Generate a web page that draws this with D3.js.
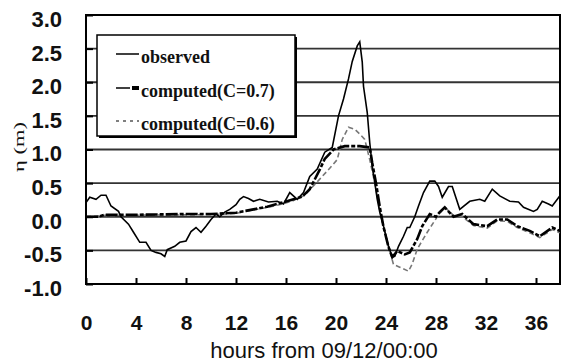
<!DOCTYPE html>
<html lang="en">
  <head>
    <meta charset="UTF-8" />
    <title>Storm surge - observed vs computed</title>
    <style>
      body {
        margin: 0;
        background: #fff;
      }
      svg {
        display: block;
      }
    </style>
  </head>
  <body>
    <svg></svg>
    <script src="https://d3js.org/d3.v7.min.js"></script>
    <script>
      // hours from 09/12/00:00 and water level (m)
      const obsHours = [0, 0.3, 0.8, 1.2, 1.6, 2.0, 2.6, 2.8, 3.4, 3.8, 4.3, 4.8, 5.2, 5.6, 6.0, 6.3, 6.5, 7.1, 7.5, 8.0, 8.4, 8.8, 9.2, 9.6, 10.0, 10.4, 10.7, 11.1, 11.5, 12.0, 12.3, 12.6, 13.0, 13.4, 13.9, 14.6, 15.3, 15.8, 16.3, 16.9, 17.4, 17.9, 18.5, 19.1, 19.7, 20.2, 20.6, 21.0, 21.3, 21.7, 21.9, 22.1, 22.2, 22.5, 22.7, 22.9, 23.1, 23.3, 23.5, 23.8, 24.2, 24.5, 24.7, 25.0, 25.4, 25.7, 25.9, 26.3, 26.6, 27.0, 27.5, 27.9, 28.2, 28.5, 29.0, 29.3, 29.9, 30.7, 31.5, 31.9, 32.5, 33.1, 33.9, 34.6, 35.0, 35.8, 36.1, 36.5, 37.0, 37.3, 37.9];
      const obsValues = [0.21, 0.29, 0.26, 0.32, 0.32, 0.16, 0.08, 0.0, -0.11, -0.23, -0.38, -0.38, -0.5, -0.53, -0.55, -0.59, -0.49, -0.44, -0.38, -0.36, -0.22, -0.16, -0.23, -0.14, -0.04, 0.04, 0.0, 0.07, 0.11, 0.18, 0.26, 0.3, 0.27, 0.23, 0.26, 0.22, 0.23, 0.19, 0.36, 0.26, 0.36, 0.6, 0.71, 0.96, 1.03, 1.5, 1.75, 2.05, 2.31, 2.54, 2.6, 2.3, 1.94, 1.55, 1.1, 0.75, 0.51, 0.26, 0.07, -0.14, -0.44, -0.6, -0.59, -0.44, -0.29, -0.16, -0.16, 0.0, 0.16, 0.36, 0.53, 0.53, 0.45, 0.29, 0.45, 0.45, 0.11, 0.23, 0.26, 0.23, 0.41, 0.31, 0.23, 0.22, 0.14, 0.08, 0.11, 0.23, 0.19, 0.16, 0.31];

      const c07Hours = [0, 1.0, 1.5, 4, 8, 10, 11, 12, 13.4, 14.5, 15.3, 16.6, 17.3, 17.9, 18.7, 19.1, 19.8, 20.7, 21.9, 22.7, 22.9, 23.2, 23.5, 23.8, 24.2, 24.5, 24.9, 25.5, 25.9, 26.5, 26.9, 27.5, 28.0, 28.3, 28.7, 29.4, 30.1, 31.0, 32.1, 32.9, 33.7, 34.5, 35.5, 36.3, 37.3, 37.9];
      const c07Values = [0, 0, 0.03, 0.03, 0.04, 0.04, 0.05, 0.06, 0.11, 0.15, 0.19, 0.26, 0.3, 0.41, 0.7, 0.86, 1.0, 1.05, 1.05, 1.03, 0.8, 0.5, 0.15, -0.15, -0.45, -0.6, -0.51, -0.56, -0.53, -0.33, -0.14, 0.04, 0.0, 0.07, 0.14, 0.0, 0.04, -0.11, -0.14, -0.04, -0.04, -0.14, -0.21, -0.29, -0.16, -0.21];

      const c06Hours = [0, 1.5, 10, 12, 13.4, 15.3, 16.6, 17.5, 18.7, 19.3, 20.1, 20.5, 21.0, 21.5, 21.9, 22.3, 22.7, 23.1, 23.5, 24.0, 24.6, 25.1, 25.8, 26.1, 26.5, 27.3, 28.1, 28.7, 29.4, 30.1, 31.0, 32.1, 32.9, 33.7, 34.5, 35.5, 36.3, 37.3, 37.9];
      const c06Values = [0, 0.02, 0.03, 0.05, 0.1, 0.17, 0.24, 0.32, 0.56, 0.68, 0.85, 1.15, 1.33, 1.3, 1.23, 1.15, 0.85, 0.5, 0.1, -0.3, -0.71, -0.75, -0.81, -0.7, -0.48, -0.23, 0.0, 0.14, 0.02, 0.0, -0.13, -0.17, -0.06, -0.07, -0.16, -0.24, -0.31, -0.19, -0.24];

      const xTicks = [0, 4, 8, 12, 16, 20, 24, 28, 32, 36];
      const yTicks = [-1.0, -0.5, 0.0, 0.5, 1.0, 1.5, 2.0, 2.5, 3.0];
      const legendLabels = ["observed", "computed(C=0.7)", "computed(C=0.6)"];

      const width = 561;
      const height = 364;
      const plotL = 86, plotR = 561, plotT = 15, plotB = 284;

      const svg = d3.select("svg").attr("width", width).attr("height", height);

      const x = d3.scaleLinear().domain([0, 38]).range([plotL, plotR]);
      const y = d3.scaleLinear().domain([-1, 3]).range([plotB, plotT]);

      // grid lines (not on the frame)
      svg.append("g")
        .selectAll("line")
        .data(yTicks.filter((d) => d > -1 && d < 3))
        .join("line")
        .attr("x1", plotL)
        .attr("x2", plotR)
        .attr("y1", (d) => y(d))
        .attr("y2", (d) => y(d))
        .attr("stroke", "#333")
        .attr("stroke-width", 1.8);

      // y axis
      const yAxis = svg.append("g")
        .attr("transform", `translate(${plotL},0)`)
        .call(d3.axisLeft(y).tickValues(yTicks).tickFormat((d) => d.toFixed(1)).tickSize(-7).tickPadding(24));
      yAxis.select(".domain").remove();
      yAxis.selectAll("line").attr("stroke", "#000").attr("stroke-width", 2);
      yAxis.selectAll("text")
        .attr("dy", "0.52em")
        .attr("fill", "#111")
        .style("font-family", "'Liberation Sans', Arial, sans-serif")
        .style("font-size", "22px")
        .style("font-weight", "bold");

      // x axis
      const xAxis = svg.append("g")
        .attr("transform", `translate(0,${plotB})`)
        .call(d3.axisBottom(x).tickValues(xTicks).tickSize(-6).tickPadding(31));
      xAxis.select(".domain").remove();
      xAxis.selectAll("line").attr("stroke", "#000").attr("stroke-width", 2);
      xAxis.selectAll("text")
        .attr("fill", "#111")
        .style("font-family", "'Liberation Sans', Arial, sans-serif")
        .style("font-size", "21px")
        .style("font-weight", "bold");

      // frame
      svg.append("rect")
        .attr("x", plotL)
        .attr("y", plotT)
        .attr("width", plotR - plotL - 1)
        .attr("height", plotB - plotT)
        .attr("fill", "none")
        .attr("stroke", "#000")
        .attr("stroke-width", 2);

      svg.append("text")
        .attr("x", 324)
        .attr("y", 358)
        .attr("text-anchor", "middle")
        .attr("fill", "#111")
        .style("font-family", "'Liberation Sans', Arial, sans-serif")
        .style("font-size", "22px")
        .text("hours from 09/12/00:00");

      svg.append("text")
        .attr("transform", "translate(24,147) rotate(-90)")
        .attr("text-anchor", "middle")
        .attr("textLength", 50)
        .attr("lengthAdjust", "spacingAndGlyphs")
        .attr("fill", "#111")
        .style("font-family", "'Liberation Serif', 'Times New Roman', serif")
        .style("font-size", "15px")
        .text("η (m)");

      // legend
      const lg = svg.append("g");
      lg.append("rect")
        .attr("x", 99).attr("y", 37).attr("width", 198).attr("height", 101)
        .attr("fill", "#000");
      lg.append("rect")
        .attr("x", 97).attr("y", 35).attr("width", 198).attr("height", 101)
        .attr("fill", "#fff").attr("stroke", "#000").attr("stroke-width", 1.5);
      const legendY = [54, 88, 121];
      lg.append("line")
        .attr("x1", 116).attr("x2", 139).attr("y1", legendY[0]).attr("y2", legendY[0])
        .attr("stroke", "#000").attr("stroke-width", 1.5);
      lg.append("line")
        .attr("x1", 116).attr("x2", 130).attr("y1", legendY[1]).attr("y2", legendY[1])
        .attr("stroke", "#000").attr("stroke-width", 1.5);
      lg.append("rect")
        .attr("x", 132).attr("y", legendY[1] - 2).attr("width", 7).attr("height", 4)
        .attr("fill", "#000");
      lg.append("line")
        .attr("x1", 116).attr("x2", 139).attr("y1", legendY[2]).attr("y2", legendY[2])
        .attr("stroke", "#000").attr("stroke-width", 1.2).attr("stroke-dasharray", "3,4");
      lg.selectAll("text")
        .data(legendLabels)
        .join("text")
        .attr("x", 141)
        .attr("y", (d, i) => legendY[i] + 9)
        .attr("fill", "#111")
        .style("font-family", "'Liberation Serif', 'Times New Roman', serif")
        .style("font-size", "18px")
        .style("font-weight", "bold")
        .text((d) => d);

      // series
      const line = d3.line().x((d) => x(d[0])).y((d) => y(d[1]));
      const c06 = c06Hours.map((h, i) => [h, c06Values[i]]);
      const c07 = c07Hours.map((h, i) => [h, c07Values[i]]);
      const obs = obsHours.map((h, i) => [h, obsValues[i]]);

      svg.append("path")
        .datum(c06)
        .attr("d", line)
        .attr("fill", "none")
        .attr("stroke", "#777")
        .attr("stroke-width", 1.6)
        .attr("stroke-dasharray", "5,3");

      svg.append("path")
        .datum(c07)
        .attr("d", line)
        .attr("fill", "none")
        .attr("stroke", "#000")
        .attr("stroke-width", 2.6)
        .attr("stroke-dasharray", "12,2,4,2");

      svg.append("path")
        .datum(obs)
        .attr("d", line)
        .attr("fill", "none")
        .attr("stroke", "#000")
        .attr("stroke-width", 1.6);
    </script>
  </body>
</html>
